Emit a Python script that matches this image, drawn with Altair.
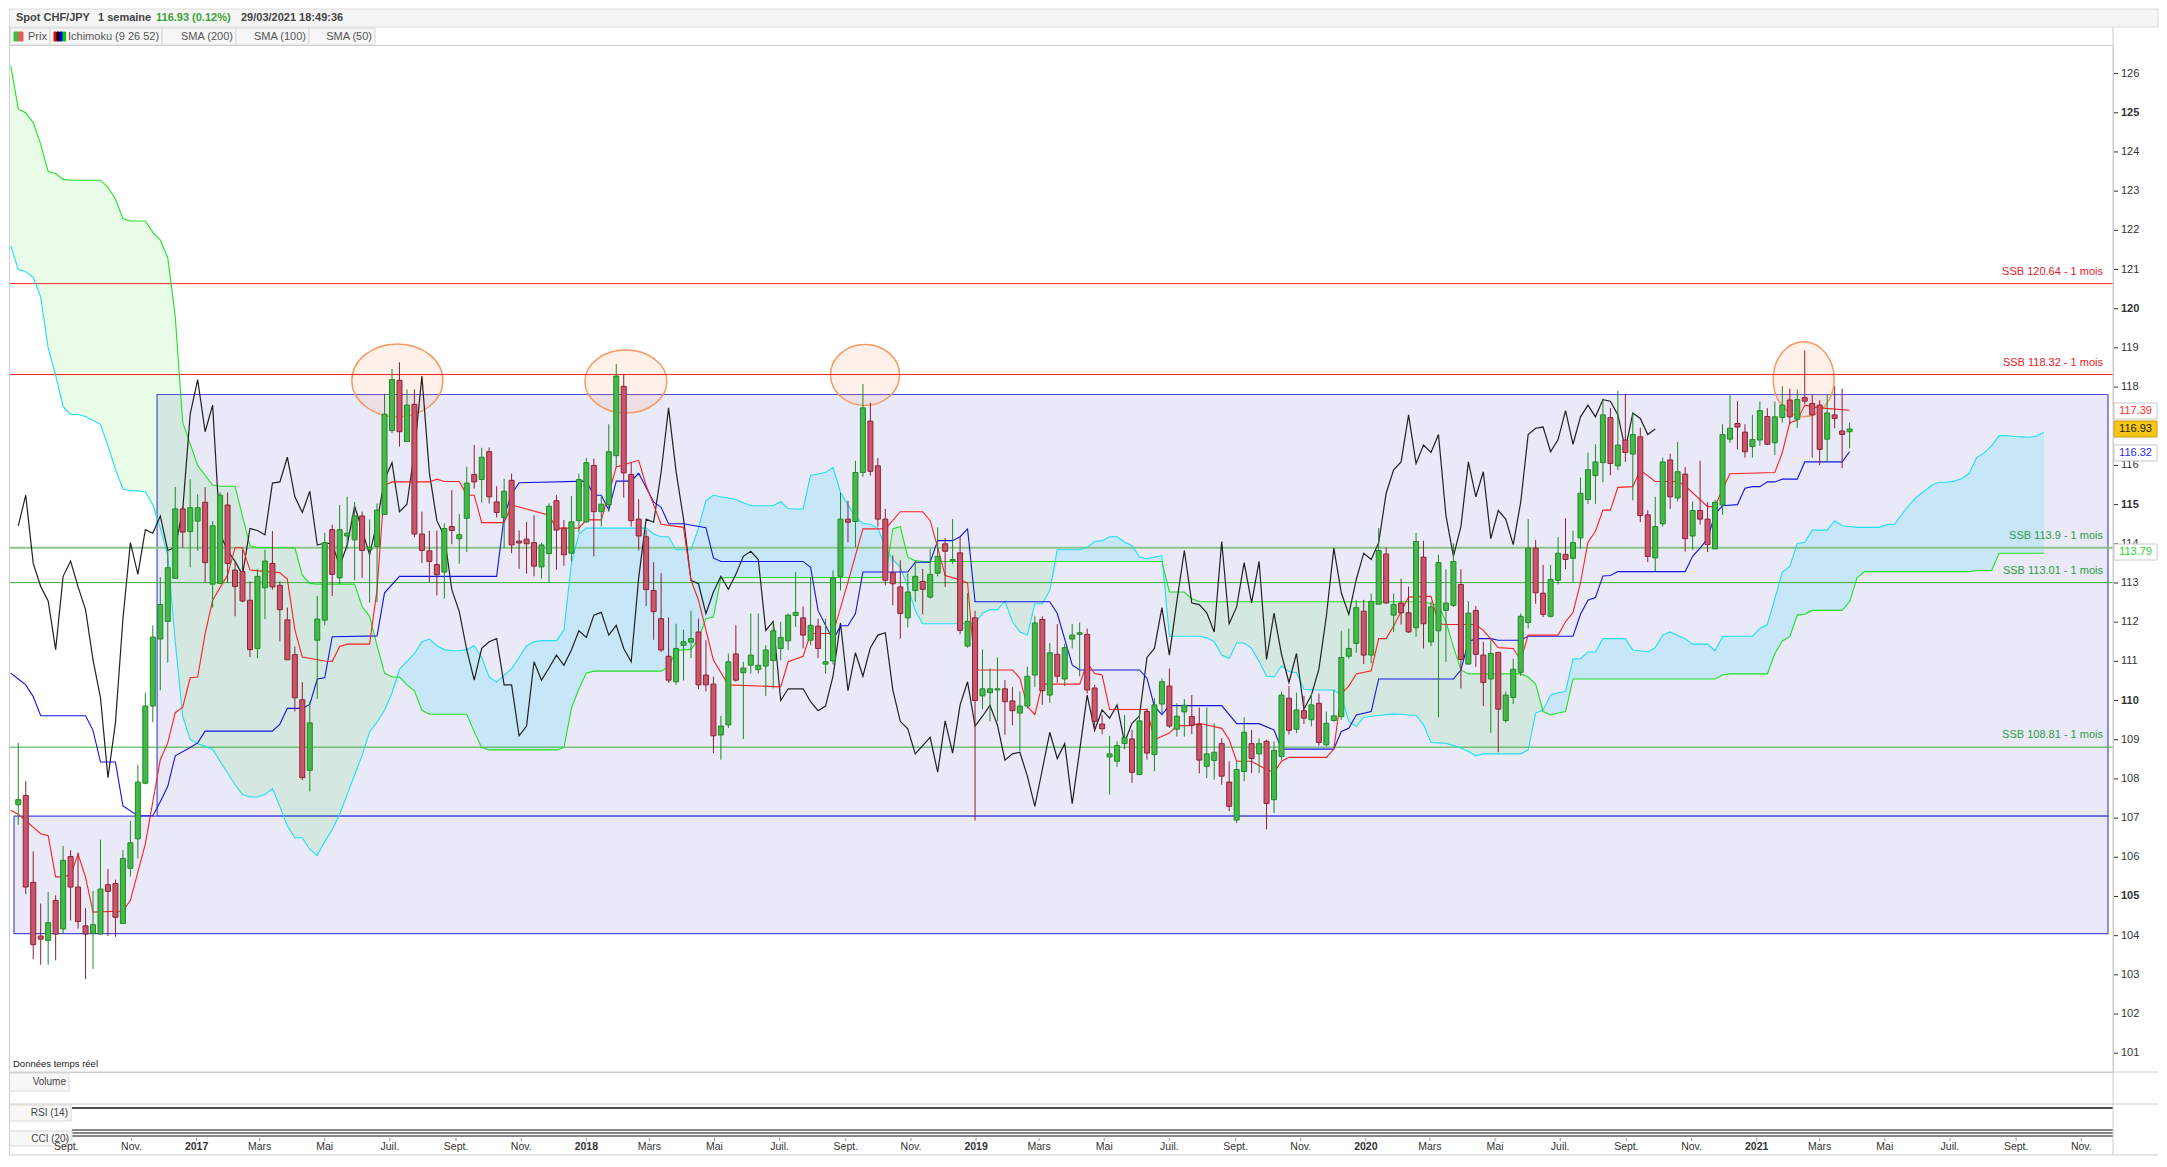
import altair as alt
import pandas as pd

# weekly CHF/JPY candles, first bar = week of 18 July 2016, last = week of 29 March 2021
START = pd.Timestamp("2016-07-18")

OPEN = [
    107.34, 107.58, 105.36, 103.99, 103.88, 104.90, 104.17, 106.02, 105.24, 104.25,
    104.06, 104.04, 105.30, 105.33, 104.31, 105.72, 106.47, 107.89, 109.86, 111.57,
    112.02, 113.12, 114.89, 114.31, 114.58, 115.06, 112.97, 112.99, 114.99, 113.33,
    113.29, 112.56, 111.33, 112.88, 113.50, 112.94, 112.06, 111.17, 110.02, 108.22,
    111.54, 112.05, 114.36, 113.13, 114.20, 114.10, 114.71, 113.85, 113.93, 114.75,
    116.89, 118.17, 116.61, 117.56, 114.25, 113.82, 113.47, 113.28, 114.44, 114.13,
    114.65, 115.77, 115.64, 116.35, 115.07, 114.67, 115.62, 114.07, 114.12, 114.03,
    113.41, 113.75, 115.10, 114.40, 113.76, 114.59, 114.56, 116.00, 114.82, 115.00,
    116.25, 118.02, 115.77, 114.63, 114.18, 112.81, 112.09, 111.13, 110.48, 111.41,
    111.49, 111.75, 110.65, 110.42, 109.12, 109.38, 111.19, 110.71, 110.90, 110.79,
    110.88, 111.02, 111.33, 111.52, 112.17, 112.11, 111.54, 111.90, 110.93, 111.01,
    113.17, 114.63, 114.57, 115.82, 117.13, 115.99, 114.63, 113.26, 112.90, 112.11,
    112.81, 113.04, 112.64, 113.25, 114.00, 113.56, 113.77, 111.39, 112.11, 110.12,
    110.20, 110.27, 110.30, 109.99, 109.68, 109.86, 110.65, 112.07, 110.14, 111.18,
    110.55, 111.57, 111.69, 111.69, 110.32, 109.40, 108.56, 108.45, 108.90, 109.02,
    108.11, 109.72, 108.62, 109.91, 110.37, 109.27, 109.71, 109.59, 109.39, 108.32,
    108.47, 108.90, 107.92, 106.95, 108.19, 108.90, 108.64, 108.96, 107.47, 108.57,
    110.06, 109.27, 109.74, 109.51, 109.93, 108.87, 109.49, 109.59, 111.13, 111.46,
    112.28, 111.16, 112.46, 113.74, 112.18, 112.49, 112.24, 111.86, 113.66, 111.50,
    111.78, 112.30, 112.43, 112.96, 110.93, 112.30, 111.16, 110.55, 111.23, 109.49,
    110.08, 110.72, 111.99, 113.89, 112.74, 112.15, 113.07, 113.73, 113.63, 114.15,
    115.13, 115.74, 116.07, 117.22, 115.99, 116.65, 116.29, 116.73, 114.74, 113.64,
    114.51, 116.14, 115.17, 115.78, 114.20, 114.85, 114.63, 113.87, 114.99, 116.67,
    117.07, 116.85, 116.48, 116.65, 117.25, 116.58, 117.22, 117.67, 117.18, 117.73,
    117.58, 117.54, 116.67, 117.29, 116.88, 116.86,
]
HIGH = [
    108.92, 107.95, 106.15, 104.82, 105.11, 105.03, 106.29, 106.18, 106.12, 104.70,
    105.14, 106.45, 105.70, 105.43, 106.18, 106.93, 108.36, 110.20, 111.92, 113.15,
    113.85, 115.45, 114.95, 115.65, 115.26, 115.45, 114.58, 115.31, 115.31, 113.52,
    113.85, 113.04, 113.36, 113.85, 114.33, 113.04, 112.37, 111.38, 110.47, 109.97,
    112.67, 114.28, 114.49, 114.99, 115.20, 115.07, 114.82, 114.62, 115.03, 117.83,
    118.46, 118.63, 117.94, 117.94, 114.82, 114.33, 114.34, 114.52, 115.37, 114.76,
    115.97, 116.52, 116.45, 116.46, 115.47, 115.66, 115.79, 114.34, 114.56, 114.73,
    114.03, 115.03, 115.24, 114.61, 115.22, 115.79, 116.19, 116.17, 115.24, 117.05,
    118.59, 118.32, 116.08, 115.14, 114.35, 113.53, 113.25, 112.12, 111.96, 111.81,
    112.29, 112.09, 111.54, 110.61, 109.61, 111.20, 111.92, 110.99, 112.22, 112.22,
    111.41, 112.03, 112.01, 112.22, 113.28, 112.40, 113.15, 112.09, 112.09, 113.32,
    115.31, 115.10, 116.12, 118.08, 117.60, 116.19, 114.89, 113.70, 113.58, 113.24,
    113.58, 113.36, 113.87, 114.42, 114.15, 114.63, 114.17, 112.74, 112.29, 111.30,
    110.82, 111.10, 110.52, 110.34, 110.23, 110.86, 112.15, 112.15, 111.47, 111.95,
    111.45, 111.95, 111.99, 111.84, 110.40, 109.63, 109.10, 108.96, 109.63, 109.25,
    109.74, 109.80, 110.06, 110.57, 110.82, 109.93, 110.04, 110.14, 109.82, 109.82,
    109.42, 109.04, 108.45, 108.45, 109.57, 109.25, 109.04, 109.00, 108.96, 110.23,
    110.37, 110.20, 110.12, 110.18, 110.18, 109.72, 110.27, 111.78, 111.84, 112.56,
    112.57, 112.73, 114.40, 113.91, 112.73, 113.11, 112.91, 114.28, 114.08, 112.53,
    113.72, 113.35, 114.01, 113.35, 112.54, 112.41, 111.50, 111.54, 111.24, 110.23,
    111.07, 112.22, 114.63, 114.10, 113.46, 113.46, 114.17, 114.65, 114.34, 115.69,
    116.33, 116.54, 117.71, 117.47, 117.91, 117.83, 117.35, 116.96, 114.86, 115.20,
    116.20, 116.30, 116.60, 115.96, 115.08, 116.12, 115.06, 115.12, 117.05, 117.79,
    117.64, 117.05, 117.29, 117.63, 117.46, 117.63, 118.02, 117.96, 117.94, 118.93,
    117.81, 117.66, 117.81, 118.02, 117.96, 117.09,
]
LOW = [
    106.83, 105.06, 103.40, 103.26, 103.26, 103.37, 104.04, 104.39, 104.18, 102.89,
    103.15, 104.04, 103.99, 103.97, 104.31, 105.51, 105.97, 107.86, 109.45, 110.26,
    110.97, 113.12, 113.90, 113.40, 113.82, 113.01, 112.37, 112.97, 113.01, 112.15,
    112.51, 111.11, 111.08, 112.08, 112.83, 111.51, 111.04, 109.72, 107.97, 107.68,
    110.04, 111.92, 112.67, 112.97, 113.86, 113.07, 113.13, 112.50, 112.51, 114.75,
    116.82, 116.48, 116.61, 114.17, 113.51, 113.02, 112.68, 112.60, 113.99, 113.49,
    113.79, 115.41, 115.05, 115.03, 114.67, 113.89, 113.76, 113.36, 113.24, 113.17,
    113.11, 113.00, 113.34, 113.44, 113.55, 114.29, 114.54, 113.68, 114.44, 114.82,
    115.96, 115.18, 114.44, 113.83, 112.41, 111.55, 111.24, 110.46, 110.40, 110.51,
    111.08, 110.29, 110.23, 108.66, 108.49, 109.30, 110.48, 109.02, 110.69, 110.69,
    110.12, 110.31, 111.03, 111.29, 111.88, 111.33, 111.41, 111.08, 110.69, 110.92,
    112.81, 114.04, 113.91, 115.71, 115.74, 114.44, 112.94, 112.43, 111.58, 111.86,
    112.52, 112.20, 112.60, 113.17, 112.90, 113.49, 111.69, 111.35, 106.94, 109.78,
    109.47, 109.47, 109.13, 109.37, 108.71, 109.80, 110.35, 109.89, 109.94, 110.45,
    110.37, 111.33, 110.62, 110.18, 109.21, 109.14, 107.60, 108.31, 108.76, 107.90,
    108.11, 108.49, 108.20, 109.68, 109.30, 109.08, 109.08, 109.14, 108.14, 108.02,
    107.98, 107.85, 107.18, 106.87, 107.94, 108.15, 108.15, 106.71, 107.13, 108.49,
    109.13, 109.17, 109.40, 109.34, 108.85, 108.83, 109.46, 109.51, 111.07, 111.22,
    110.93, 110.95, 112.46, 112.47, 111.75, 111.94, 111.73, 111.63, 111.33, 111.39,
    109.57, 110.99, 112.39, 110.31, 110.93, 110.86, 109.86, 109.17, 108.68, 109.44,
    109.91, 110.63, 111.84, 112.47, 112.13, 112.12, 112.96, 113.35, 113.02, 113.87,
    115.02, 115.02, 115.57, 115.75, 115.88, 116.09, 115.11, 114.55, 113.53, 113.30,
    114.44, 114.89, 115.08, 113.80, 113.85, 114.49, 113.79, 113.87, 114.74, 116.58,
    116.41, 116.20, 116.20, 116.50, 116.52, 116.27, 117.09, 117.05, 116.95, 117.57,
    116.20, 116.01, 116.08, 116.95, 115.93, 116.44,
]
CLOSE = [
    107.47, 105.24, 103.77, 103.91, 104.33, 104.04, 105.92, 105.24, 104.36, 104.04,
    104.28, 105.19, 105.13, 104.47, 105.97, 106.37, 107.92, 109.86, 111.62, 112.45,
    113.39, 114.89, 114.30, 114.92, 114.92, 113.52, 114.46, 115.24, 113.50, 112.91,
    112.54, 111.30, 113.17, 113.56, 112.90, 112.32, 111.04, 110.07, 108.03, 109.43,
    112.08, 114.03, 113.22, 114.36, 114.27, 114.71, 113.83, 113.91, 114.86, 117.31,
    118.19, 116.86, 117.54, 114.25, 113.83, 113.55, 113.21, 114.39, 114.34, 114.23,
    115.55, 115.58, 116.21, 115.20, 114.80, 115.34, 113.97, 114.02, 114.00, 113.43,
    113.97, 114.96, 114.35, 113.72, 114.56, 115.64, 116.07, 114.82, 115.01, 116.35,
    118.28, 115.81, 114.59, 114.20, 112.83, 112.27, 111.29, 110.52, 111.33, 111.50,
    111.58, 110.40, 110.40, 109.10, 109.35, 110.99, 110.52, 110.83, 111.16, 110.90,
    111.29, 111.78, 111.61, 112.18, 112.25, 111.67, 111.92, 111.33, 110.99, 113.13,
    114.63, 114.55, 115.82, 117.47, 115.85, 114.63, 113.07, 112.98, 112.22, 112.77,
    113.17, 112.84, 113.22, 113.68, 113.81, 113.60, 111.79, 112.02, 110.00, 110.30,
    110.30, 110.30, 109.97, 109.74, 109.86, 110.62, 111.98, 110.25, 111.22, 110.62,
    111.35, 111.67, 111.73, 110.27, 109.47, 109.28, 108.64, 108.85, 109.06, 108.17,
    109.48, 108.66, 109.89, 110.48, 109.35, 109.60, 109.88, 109.37, 108.48, 108.64,
    108.68, 108.07, 107.30, 108.24, 109.19, 108.52, 108.90, 107.37, 108.73, 110.14,
    109.24, 109.76, 109.55, 109.89, 108.93, 109.42, 109.61, 111.10, 111.33, 112.37,
    111.16, 112.53, 113.83, 112.49, 112.45, 112.24, 111.75, 114.06, 111.96, 112.39,
    113.52, 112.49, 113.55, 111.05, 112.23, 111.18, 110.46, 111.20, 109.78, 110.14,
    110.80, 112.15, 113.89, 112.75, 112.20, 113.09, 113.76, 113.60, 114.03, 115.29,
    115.89, 116.09, 117.29, 116.05, 116.52, 116.33, 116.79, 114.72, 113.68, 114.44,
    116.09, 115.20, 115.84, 114.13, 114.85, 114.63, 113.98, 115.06, 116.79, 116.95,
    116.98, 116.35, 116.66, 117.40, 116.54, 117.24, 117.54, 117.24, 117.68, 117.64,
    117.29, 116.41, 117.34, 117.20, 116.79, 116.93,
]

# Ichimoku tenkan (red) and kijun (blue): (week index, value) at each vertex
TENKAN = [
    (-1, 107.2), (0, 107.1), (3, 106.6), (4, 106.55), (5, 105.5), (6, 105.5), (7, 105.55),
    (8, 106.08), (9, 105.49), (10, 104.6), (14, 104.63), (15, 104.9), (17, 106.34),
    (19, 108.49), (20, 108.92), (21, 109.69), (22, 109.83), (23, 110.58), (24, 110.6),
    (25, 111.7), (26, 112.56), (28, 113.2), (29, 113.9), (30, 113.9), (31, 113.33),
    (35, 113.26), (36, 113.1), (37, 111.81), (38, 111.11), (41, 111.01), (42, 111.0),
    (43, 111.38), (44, 111.44), (47, 111.44), (48, 112.83), (49, 115.49), (50, 115.58),
    (55, 115.58), (56, 115.65), (57, 115.59), (59, 115.59), (60, 115.24), (61, 115.24),
    (62, 114.54), (65, 114.54), (66, 114.99), (67, 114.94), (71, 114.73), (72, 114.4),
    (75, 114.4), (76, 114.61), (78, 114.61), (80, 115.96), (83, 116.13), (84, 115.49),
    (86, 114.5), (89, 114.42), (90, 113.07), (91, 112.56), (93, 111.03), (95, 110.4),
    (102, 110.35), (103, 110.99), (105, 111.13), (106, 111.71), (109, 111.71),
    (111, 113.02), (113, 114.38), (116, 114.38), (118, 114.82), (121, 114.82),
    (122, 114.59), (123, 113.91), (124, 113.19), (126, 113.08), (127, 113.0),
    (128, 110.78), (133, 110.78), (134, 110.57), (135, 109.85), (136, 109.64),
    (137, 110.42), (142, 110.42), (143, 110.96), (144, 110.69), (145, 110.65),
    (146, 109.77), (151, 109.77), (152, 109.0), (154, 109.17), (155, 109.36),
    (157, 109.36), (158, 109.42), (161, 109.29), (162, 109.0), (163, 108.45),
    (165, 108.45), (166, 108.34), (167, 108.24), (168, 108.17), (169, 108.45),
    (170, 108.55), (175, 108.55), (176, 108.76), (177, 110.18), (178, 110.37),
    (179, 110.68), (181, 110.76), (182, 111.58), (183, 111.58), (184, 111.9),
    (186, 112.64), (189, 112.66), (190, 111.96), (191, 111.94), (195, 111.94),
    (196, 111.79), (198, 111.35), (200, 111.33), (201, 111.03), (202, 111.67),
    (206, 111.67), (207, 112.01), (208, 112.25), (209, 113.0), (210, 114.04),
    (211, 114.32), (212, 114.86), (213, 114.86), (214, 115.44), (216, 115.46),
    (217, 115.88), (219, 115.59), (222, 115.59), (223, 115.48), (226, 114.95),
    (227, 114.95), (228, 115.4), (229, 115.79), (235, 115.82), (236, 116.33),
    (237, 117.09), (238, 117.15), (239, 117.54), (241, 117.47), (245, 117.41),
]
KIJUN = [
    (-1, 110.7), (0, 110.55), (1, 110.4), (2, 110.1), (3, 109.61), (9, 109.61),
    (10, 109.24), (11, 108.43), (13, 108.43), (14, 107.31), (16, 107.06), (18, 107.06),
    (19, 107.42), (20, 107.81), (21, 108.59), (23, 108.8), (24, 108.92), (25, 109.22),
    (34, 109.22), (35, 109.4), (36, 109.8), (38, 109.8), (39, 109.9), (40, 110.55),
    (41, 110.58), (42, 111.63), (48, 111.65), (49, 112.75), (51, 113.17), (64, 113.17),
    (65, 114.7), (66, 115.27), (67, 115.56), (76, 115.6), (77, 115.24), (78, 115.24),
    (79, 114.86), (80, 115.6), (82, 115.6), (83, 115.8), (85, 115.07), (86, 114.93),
    (87, 114.51), (89, 114.51), (92, 114.41), (93, 113.64), (94, 113.55), (105, 113.55),
    (106, 113.4), (107, 112.3), (109, 111.54), (110, 111.91), (111, 111.91),
    (112, 112.22), (113, 113.28), (119, 113.28), (120, 113.53), (122, 113.53),
    (123, 114.08), (125, 114.08), (126, 114.18), (127, 114.38), (128, 112.52),
    (138, 112.52), (139, 112.22), (141, 110.91), (142, 110.78), (150, 110.78),
    (151, 110.57), (152, 109.85), (153, 109.64), (154, 109.87), (161, 109.87),
    (163, 109.41), (166, 109.41), (168, 109.25), (169, 108.76), (176, 108.76),
    (177, 109.21), (178, 109.29), (179, 109.63), (181, 109.72), (182, 110.55),
    (192, 110.55), (193, 110.78), (194, 111.5), (195, 111.58), (197, 111.58),
    (198, 111.54), (201, 111.54), (202, 111.64), (208, 111.64), (209, 112.2),
    (210, 112.56), (211, 112.63), (212, 113.18), (213, 113.19), (214, 113.29),
    (223, 113.29), (224, 113.68), (225, 113.89), (226, 114.13), (227, 114.76),
    (228, 114.97), (230, 115.0), (231, 115.42), (232, 115.46), (233, 115.46),
    (234, 115.58), (235, 115.58), (236, 115.65), (238, 115.65), (239, 116.09),
    (244, 116.09), (245, 116.35),
]

# senkou span A (cyan) and B (green), one value per week from index -1 to 271
SENKOU_A = [
    121.6, 121.0, 120.95, 120.8, 120.3, 119.0, 118.3, 117.5, 117.3, 117.3,
    117.25, 117.15, 117.05, 116.5, 115.9, 115.4, 115.35, 115.35, 115.33, 115.0,
    114.4, 113.7, 111.5, 109.6, 109.0, 108.9, 108.83, 108.75, 108.45, 108.15,
    107.85, 107.6, 107.54, 107.54, 107.6, 107.75, 107.3, 106.8, 106.5, 106.5,
    106.2, 106.05, 106.4, 106.7, 107.1, 107.6, 108.1, 108.6, 109.2, 109.45,
    109.75, 110.2, 110.8, 111.0, 111.2, 111.5, 111.57, 111.4, 111.3, 111.27,
    111.27, 111.3, 111.4, 111.1, 110.6, 110.47, 110.65, 110.81, 111.1, 111.4,
    111.5, 111.53, 111.53, 111.53, 111.8, 113.5, 114.25, 114.4, 114.4, 114.4,
    114.4, 114.4, 114.4, 114.4, 114.4, 114.4, 114.25, 114.18, 114.18, 113.85,
    113.85, 113.85, 114.4, 115.1, 115.24, 115.2, 115.17, 115.13, 115.05, 114.97,
    114.97, 114.97, 114.97, 115.08, 114.9, 114.89, 114.89, 115.75, 115.78, 115.82,
    115.95, 115.31, 115.0, 114.68, 114.52, 114.5, 114.4, 113.9, 113.6, 113.4,
    112.9, 112.3, 111.96, 111.96, 111.96, 111.96, 111.96, 111.96, 111.96, 111.96,
    112.23, 112.32, 112.32, 112.54, 112.01, 111.75, 111.67, 112.47, 112.47, 112.81,
    113.85, 113.85, 113.85, 113.85, 113.91, 114.06, 114.08, 114.18, 114.18, 114.04,
    113.96, 113.66, 113.62, 113.66, 113.7, 111.64, 111.64, 111.64, 111.64, 111.64,
    111.6, 111.5, 111.16, 111.07, 111.47, 111.47, 111.33, 111.0, 110.62, 110.6,
    110.88, 110.74, 110.71, 110.29, 110.27, 110.27, 110.27, 110.27, 110.14, 109.46,
    109.34, 109.57, 109.6, 109.62, 109.64, 109.66, 109.65, 109.63, 109.62, 109.38,
    108.93, 108.92, 108.91, 108.85, 108.79, 108.7, 108.59, 108.64, 108.64, 108.64,
    108.64, 108.64, 108.64, 108.74, 109.68, 109.76, 110.14, 110.2, 110.23, 111.06,
    111.07, 111.24, 111.24, 111.58, 111.58, 111.58, 111.58, 111.29, 111.27, 111.24,
    111.35, 111.67, 111.75, 111.66, 111.58, 111.44, 111.44, 111.44, 111.27, 111.63,
    111.64, 111.64, 111.64, 111.64, 111.84, 111.94, 112.6, 113.28, 113.42, 114.01,
    114.04, 114.35, 114.35, 114.35, 114.59, 114.46, 114.44, 114.42, 114.42, 114.42,
    114.42, 114.49, 114.5, 114.75, 115.0, 115.2, 115.34, 115.5, 115.57, 115.57,
    115.6, 115.66, 115.8, 116.2, 116.32, 116.5, 116.76, 116.76, 116.74, 116.73,
    116.72, 116.75, 116.85,
]
SENKOU_B = [
    126.2, 125.1, 125.0, 124.75, 124.2, 123.5, 123.45, 123.3, 123.28, 123.28,
    123.28, 123.28, 123.28, 123.1, 122.8, 122.3, 122.24, 122.24, 122.24, 121.95,
    121.75, 121.3, 119.8, 117.1, 116.55, 116.0, 115.75, 115.5, 115.47, 115.47,
    115.47, 114.7, 113.95, 113.9, 113.9, 113.9, 113.9, 113.9, 113.9, 113.2,
    112.99, 112.97, 112.97, 112.97, 112.97, 112.97, 112.97, 112.4, 112.15, 111.4,
    110.7, 110.6, 110.6, 110.4, 110.25, 109.75, 109.65, 109.65, 109.65, 109.65,
    109.65, 109.65, 109.2, 108.8, 108.74, 108.74, 108.74, 108.74, 108.74, 108.74,
    108.74, 108.74, 108.74, 108.74, 108.8, 109.8, 110.3, 110.7, 110.75, 110.75,
    110.75, 110.75, 110.75, 110.75, 110.75, 110.75, 110.75, 110.75, 110.86, 111.27,
    111.3, 111.3, 111.58, 112.09, 112.13, 113.13, 113.14, 113.14, 113.14, 113.14,
    113.14, 113.14, 113.14, 113.14, 113.14, 113.14, 113.14, 113.14, 113.14, 113.14,
    113.14, 113.14, 113.14, 113.14, 113.14, 113.14, 113.14, 113.15, 114.38, 114.44,
    113.66, 113.57, 113.55, 113.55, 113.55, 113.55, 113.55, 113.55, 113.55, 113.55,
    113.55, 113.55, 113.55, 113.55, 113.55, 113.55, 113.55, 113.55, 113.55, 113.55,
    113.55, 113.55, 113.55, 113.55, 113.55, 113.55, 113.55, 113.55, 113.55, 113.55,
    113.55, 113.55, 113.55, 113.55, 113.55, 112.77, 112.77, 112.77, 112.6, 112.52,
    112.52, 112.52, 112.52, 112.52, 112.52, 112.52, 112.52, 112.52, 112.52, 112.52,
    112.52, 112.52, 112.52, 112.52, 112.52, 112.52, 112.52, 112.52, 112.52, 112.52,
    112.52, 112.52, 112.52, 112.52, 112.52, 112.52, 112.52, 112.52, 112.52, 112.52,
    112.47, 112.43, 112.01, 111.37, 110.78, 110.68, 110.68, 110.68, 110.68, 110.68,
    110.68, 110.68, 110.68, 110.6, 110.42, 109.72, 109.63, 109.68, 109.72, 110.55,
    110.55, 110.55, 110.55, 110.55, 110.55, 110.55, 110.55, 110.55, 110.55, 110.55,
    110.55, 110.55, 110.55, 110.55, 110.55, 110.55, 110.55, 110.55, 110.55, 110.65,
    110.68, 110.68, 110.68, 110.68, 110.68, 110.68, 111.2, 111.52, 111.63, 112.18,
    112.2, 112.3, 112.3, 112.3, 112.3, 112.3, 112.52, 113.13, 113.29, 113.29,
    113.29, 113.29, 113.29, 113.29, 113.29, 113.29, 113.29, 113.29, 113.29, 113.29,
    113.29, 113.29, 113.29, 113.32, 113.32, 113.32, 113.76, 113.76, 113.76, 113.76,
    113.76, 113.76, 113.76,
]

SSB_LEVELS = [120.64, 118.32, 113.9, 113.01, 108.81]
BOX_TOP, BOX_MID, BOX_LOW = 117.81, 107.05, 104.05
BOX_START = "2016-11-25"
ELLIPSE_DATES = ["2017-07-08", "2018-02-07", "2018-09-19", "2021-02-14"]
ELLIPSE_PRICES = [118.17, 118.14, 118.31, 118.2]
TAG_VALUES = [117.39, 116.93, 116.32, 113.79]
# 117 sits under the price tags and is not shown
Y_TICKS = [101, 102, 103, 104, 105, 106, 107, 108, 109, 110, 111, 112, 113,
           114, 115, 116, 118, 119, 120, 121, 122, 123, 124, 125, 126]
X_TICKS = [
    "2016-09", "2016-11", "2017-01", "2017-03", "2017-05", "2017-07", "2017-09", "2017-11",
    "2018-01", "2018-03", "2018-05", "2018-07", "2018-09", "2018-11",
    "2019-01", "2019-03", "2019-05", "2019-07", "2019-09", "2019-11",
    "2020-01", "2020-03", "2020-05", "2020-07", "2020-09", "2020-11",
    "2021-01", "2021-03", "2021-05", "2021-07", "2021-09", "2021-11",
]
MONTHS_FR = ["Janv.", "Févr.", "Mars", "Avr.", "Mai", "Juin",
             "Juil.", "Août", "Sept.", "Oct.", "Nov.", "Déc."]

# ---- layout and style ----
W, H = 2104, 1027
RIGHT = 2149
FONT = "Liberation Sans"
UP_FILL, UP_LINE = "#45b84a", "#1f8a24"
DN_FILL, DN_LINE = "#c9566b", "#8e2234"
SSB_COLORS = ["#ee2222", "#ee2222", "#8cc48c", "#3daa3d", "#3daa3d"]
SSB_TEXT = ["#e8202a", "#e8202a", "#2e9e3e", "#2e9e3e", "#2e9e3e"]
SSB_WIDTH = [1, 1, 2, 1, 1]
ELLIPSE_PX = [(91, 73), (82, 63), (69, 61), (61, 75)]
TAG_STYLE = [("#ffffff", "#c8c8c8", "#ff2b2b"), ("#f6c615", "#c9a000", "#222222"),
             ("#ffffff", "#c8c8c8", "#2a2aff"), ("#ffffff", "#c8c8c8", "#1ed81e")]

X_SCALE = alt.Scale(domain=[alt.DateTime(year=2016, month=7, date=14),
                            alt.DateTime(year=2021, month=11, date=26)])
Y_SCALE = alt.Scale(domain=[100.52, 126.73], zero=False, nice=False)


def week(i):
    return START + pd.Timedelta(days=7 * i)


def xq(field):
    return alt.X(field, type="temporal", scale=X_SCALE, axis=None)


def yq(field):
    return alt.Y(field, type="quantitative", scale=Y_SCALE, axis=None)


ONE = pd.DataFrame({"k": [0]})


def box(x0, x1, y0, y1, fill, stroke):
    return alt.Chart(ONE).mark_rect(fill=fill, stroke=stroke, strokeWidth=1).encode(
        x=alt.value(x0), x2=alt.value(x1), y=alt.value(y0), y2=alt.value(y1))


def rule(x0, x1, y0, y1, color, w=1.0):
    return alt.Chart(ONE).mark_rule(color=color, strokeWidth=w).encode(
        x=alt.value(x0), x2=alt.value(x1), y=alt.value(y0), y2=alt.value(y1))


def label(text, x, y, size=11, color="#555555", weight="normal", align="left"):
    return alt.Chart(ONE).mark_text(text=text, align=align, baseline="middle", fontSize=size,
                                    color=color, fontWeight=weight).encode(
        x=alt.value(x), y=alt.value(y))


# ---- tables ----
n = len(CLOSE)
candles = pd.DataFrame({"date": [week(i) for i in range(n)],
                        "o": OPEN, "h": HIGH, "l": LOW, "c": CLOSE})
candles["dir"] = ["up" if c >= o else "down" for o, c in zip(OPEN, CLOSE)]

cloud = pd.DataFrame({"date": [week(i - 1) for i in range(len(SENKOU_A))],
                      "a": SENKOU_A, "b": SENKOU_B})
cloud["lo"] = cloud[["a", "b"]].min(axis=1)

tenkan = pd.DataFrame({"date": [week(i) for i, _ in TENKAN], "v": [v for _, v in TENKAN]})
kijun = pd.DataFrame({"date": [week(i) for i, _ in KIJUN], "v": [v for _, v in KIJUN]})
chikou = pd.DataFrame({"date": [week(i) for i in range(n - 26)], "v": CLOSE[26:]})

boxes = pd.DataFrame({"x0": [pd.Timestamp(BOX_START), pd.Timestamp("2016-07-14")],
                      "x1": [pd.Timestamp("2021-11-26")] * 2,
                      "y0": [BOX_MID, BOX_LOW], "y1": [BOX_TOP, BOX_MID]})

ssb = pd.DataFrame({"v": SSB_LEVELS, "label": [f"SSB {v} - 1 mois" for v in SSB_LEVELS],
                    "col": SSB_COLORS, "tcol": SSB_TEXT, "w": SSB_WIDTH})

tags = pd.DataFrame({"v": TAG_VALUES, "label": [f"{v:.2f}" for v in TAG_VALUES],
                     "fill": [s[0] for s in TAG_STYLE], "stroke": [s[1] for s in TAG_STYLE],
                     "tcol": [s[2] for s in TAG_STYLE]})

# price scale ticks (right) and month ticks (bottom), placed through the shared scales
yticks = pd.DataFrame({"v": Y_TICKS, "t": [str(v) for v in Y_TICKS],
                       "major": [v % 5 == 0 for v in Y_TICKS]})
xtick_dates = [pd.Timestamp(f"{s}-01") for s in X_TICKS]
xticks = pd.DataFrame({"date": xtick_dates,
                       "t": [str(d.year) if d.month == 1 else MONTHS_FR[d.month - 1] for d in xtick_dates],
                       "major": [d.month == 1 for d in xtick_dates]})

layers = []

# lavender range boxes
layers.append(alt.Chart(boxes).mark_rect(fill="#e9e9f8", stroke="#4b4bdc", strokeWidth=1.2, clip=True)
              .encode(x=xq("x0"), x2="x1", y=yq("y0"), y2="y1"))

# kumo
layers.append(alt.Chart(cloud).mark_area(color="#00dc00", opacity=0.09, clip=True)
              .encode(x=xq("date"), y=yq("b"), y2="lo"))
layers.append(alt.Chart(cloud).mark_area(color="#6ee1fa", opacity=0.28, clip=True)
              .encode(x=xq("date"), y=yq("a"), y2="lo"))

# highlighted tops
for d, p, (ew, eh) in zip(ELLIPSE_DATES, ELLIPSE_PRICES, ELLIPSE_PX):
    m = max(ew, eh)
    rx, ry = ew / m, eh / m
    path = (f"M{-rx:.3f},0 A{rx:.3f},{ry:.3f} 0 1,0 {rx:.3f},0 "
            f"A{rx:.3f},{ry:.3f} 0 1,0 {-rx:.3f},0 Z")
    layers.append(
        alt.Chart(pd.DataFrame({"date": [pd.Timestamp(d)], "v": [p]}))
        .mark_point(shape=path, size=m * m, filled=True, fill="#ff9a66", fillOpacity=0.14,
                    stroke="#f59a62", strokeWidth=1.5, strokeOpacity=1, opacity=1, clip=True)
        .encode(x=xq("date"), y=yq("v"))
    )

# SSB levels
layers.append(alt.Chart(ssb).mark_rule(clip=True).encode(
    y=yq("v"), color=alt.Color("col:N", scale=None), strokeWidth=alt.StrokeWidth("w:Q", scale=None)))
layers.append(alt.Chart(ssb).mark_text(align="right", baseline="middle", dy=-12, fontSize=11).encode(
    x=alt.value(W - 10), y=yq("v"), text="label:N", color=alt.Color("tcol:N", scale=None)))

# ichimoku lines
layers.append(alt.Chart(cloud).mark_line(color="#1fe0f0", strokeWidth=1.1, clip=True)
              .encode(x=xq("date"), y=yq("a")))
layers.append(alt.Chart(cloud).mark_line(color="#22e022", strokeWidth=1.1, clip=True)
              .encode(x=xq("date"), y=yq("b")))
layers.append(alt.Chart(chikou).mark_line(color="#222222", strokeWidth=1.2, clip=True)
              .encode(x=xq("date"), y=yq("v")))
layers.append(alt.Chart(kijun).mark_line(color="#1414e6", strokeWidth=1.1, clip=True)
              .encode(x=xq("date"), y=yq("v")))
layers.append(alt.Chart(tenkan).mark_line(color="#ff2020", strokeWidth=1.1, clip=True)
              .encode(x=xq("date"), y=yq("v")))

# candles
layers.append(alt.Chart(candles).mark_rule(strokeWidth=1, clip=True).encode(
    x=xq("date"), y=yq("l"), y2="h",
    color=alt.Color("dir:N", scale=alt.Scale(domain=["up", "down"], range=[UP_LINE, DN_LINE]),
                    legend=None)))
layers.append(alt.Chart(candles).mark_bar(size=5, strokeWidth=1, clip=True).encode(
    x=xq("date"), y=yq("o"), y2="c",
    fill=alt.Fill("dir:N", scale=alt.Scale(domain=["up", "down"], range=[UP_FILL, DN_FILL]),
                  legend=None),
    stroke=alt.Stroke("dir:N", scale=alt.Scale(domain=["up", "down"], range=[UP_LINE, DN_LINE]),
                      legend=None)))

# right price scale: "- 126" style ticks and labels
layers.append(alt.Chart(yticks).mark_rule(color="#333333", strokeWidth=1).encode(
    x=alt.value(W + 1), x2=alt.value(W + 5), y=yq("v")))
for major, weight in [(False, "normal"), (True, "bold")]:
    layers.append(alt.Chart(yticks[yticks["major"] == major]).mark_text(
        align="left", baseline="middle", fontSize=11, color="#333333", fontWeight=weight).encode(
        x=alt.value(W + 8), y=yq("v"), text="t:N"))

# price tags on the right
layers.append(alt.Chart(tags).mark_rect(yOffset=-8, y2Offset=8, strokeWidth=1).encode(
    x=alt.value(W + 1), x2=alt.value(W + 44), y=yq("v"), y2="v",
    fill=alt.Fill("fill:N", scale=None), stroke=alt.Stroke("stroke:N", scale=None)))
layers.append(alt.Chart(tags).mark_text(align="center", baseline="middle", fontSize=11).encode(
    x=alt.value(W + 22.5), y=yq("v"), text="label:N", color=alt.Color("tcol:N", scale=None)))

# header bar
layers.append(box(0.5, RIGHT, -36, -18, "#f5f5f5", "#dddddd"))
for text, x, col in [("Spot CHF/JPY", 7, "#444444"), ("1 semaine", 89, "#444444"),
                     ("116.93 (0.12%)", 147, "#3aa335"), ("29/03/2021 18:49:36", 232, "#444444")]:
    layers.append(label(text, x, -27, size=11, color=col, weight="bold"))

# legend row
for x0, x1 in [(1, 41), (41, 153), (153, 227), (227, 300), (300, 366)]:
    layers.append(box(x0, x1, -17, 0, "#f6f6f6", "#d6d6d6"))
layers.append(box(5, 9.5, -13, -4, "#3cc13c", "#3cc13c"))
layers.append(box(9.5, 14, -13, -4, "#e06060", "#e06060"))
for col, x0 in [("#ee0000", 45), ("#000000", 48), ("#0000ff", 51), ("#00cc00", 54)]:
    layers.append(box(x0, x0 + 2.5, -13, -4, col, col))
layers.append(label("Prix", 19, -8.5))
layers.append(label("Ichimoku (9 26 52)", 59, -8.5))
layers.append(label("SMA (200)", 224, -8.5, align="right"))
layers.append(label("SMA (100)", 297, -8.5, align="right"))
layers.append(label("SMA (50)", 363, -8.5, align="right"))

# lower panels
layers.append(label("Données temps réel", 4, H - 8, size=9.5, color="#222222"))
layers.append(rule(0, RIGHT, H, H, "#cccccc"))
layers.append(box(0.5, 60, H + 1, H + 19, "#f7f7f7", "#d8d8d8"))
layers.append(label("Volume", 57, H + 10, size=10, color="#444444", align="right"))
layers.append(rule(0, RIGHT, H + 32, H + 32, "#cccccc"))
layers.append(box(0.5, 62, H + 33, H + 49, "#f7f7f7", "#d8d8d8"))
layers.append(label("RSI (14)", 59, H + 41, size=10, color="#444444", align="right"))
layers.append(rule(63, W, H + 36, H + 36, "#111111", 1.5))
for dy in (58, 61, 64):
    layers.append(rule(63, W, H + dy, H + dy, "#111111", 1.2))
layers.append(box(0.5, 63, H + 59, H + 74, "#f7f7f7", "#d8d8d8"))
layers.append(label("CCI (20)", 60, H + 67, size=10, color="#444444", align="right"))

# month axis along the bottom
layers.append(alt.Chart(xticks).mark_rule(color="#999999", strokeWidth=1).encode(
    x=xq("date"), y=alt.value(H + 66), y2=alt.value(H + 69)))
for major, weight in [(False, "normal"), (True, "bold")]:
    layers.append(alt.Chart(xticks[xticks["major"] == major]).mark_text(
        align="center", baseline="middle", fontSize=10.5, color="#333333", fontWeight=weight).encode(
        x=xq("date"), y=alt.value(H + 75), text="t:N"))

layers.append(rule(0, RIGHT, H + 83, H + 83, "#cccccc"))
layers.append(rule(W, W, -18, H + 83, "#cccccc"))
layers.append(rule(0.5, 0.5, -18, H + 83, "#cccccc"))

chart = (
    alt.layer(*layers)
    .properties(width=W, height=H, padding=0, background="#ffffff")
    .configure(font=FONT)
    .configure_view(stroke="#cccccc")
)

chart.save("out.html", embed_options={"renderer": "svg", "actions": False})
